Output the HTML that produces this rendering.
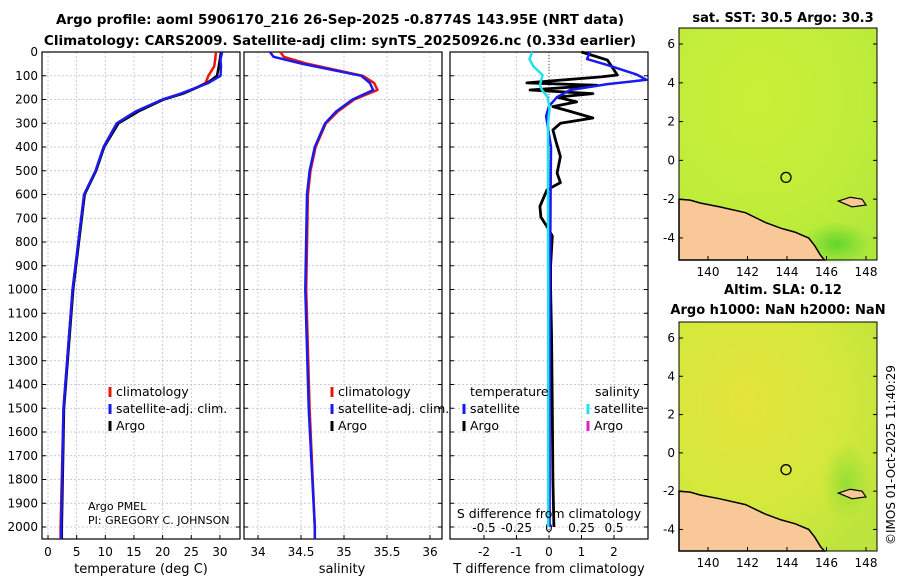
<!DOCTYPE html>
<html><head><meta charset="utf-8"><style>
body{margin:0;background:#fff;}
svg text{font-family:"DejaVu Sans","Liberation Sans",sans-serif;}
</style></head><body>
<svg id="c" width="900" height="580" viewBox="0 0 900 580" xmlns="http://www.w3.org/2000/svg">
<defs>
<radialGradient id="sst" cx="0.4" cy="0.3" r="0.9"><stop offset="0" stop-color="#cbef38"/><stop offset="0.6" stop-color="#bfec3a"/><stop offset="1" stop-color="#aee63c"/></radialGradient>
<radialGradient id="greenblob" cx="0.5" cy="0.5" r="0.5"><stop offset="0" stop-color="#55d42c" stop-opacity="0.9"/><stop offset="1" stop-color="#6ad630" stop-opacity="0"/></radialGradient>
<radialGradient id="sla" cx="0.35" cy="0.35" r="0.8"><stop offset="0" stop-color="#e4e43c"/><stop offset="0.6" stop-color="#d4e83c"/><stop offset="1" stop-color="#bce43c"/></radialGradient>
</defs>
<text x="340" y="24" text-anchor="middle" font-size="13.5" font-weight="bold">Argo profile: aoml 5906170_216 26-Sep-2025 -0.8774S 143.95E (NRT data)</text>
<text x="340" y="45" text-anchor="middle" font-size="13.5" font-weight="bold">Climatology: CARS2009. Satellite-adj clim: synTS_20250926.nc (0.33d earlier)</text>
<g id="g"></g>
<text x="783" y="22" text-anchor="middle" font-size="13" font-weight="bold">sat. SST: 30.5 Argo: 30.3</text>
<text x="783" y="294" text-anchor="middle" font-size="13" font-weight="bold">Altim. SLA: 0.12</text>
<text x="778" y="314" text-anchor="middle" font-size="13" font-weight="bold">Argo h1000: NaN h2000: NaN</text>
<text transform="translate(895,545) rotate(-90)" font-size="12">©IMOS 01-Oct-2025 11:40:29</text>
</svg>
<script>
const depthTicks=[0,100,200,300,400,500,600,700,800,900,1000,1100,1200,1300,1400,1500,1600,1700,1800,1900,2000];
const tDepth=[0,30,60,100,130,150,175,200,250,300,400,500,600,700,1000,1500,2000,2050];
const tClim=[29.3,29.2,29.0,28.0,27.5,25.9,23.5,20,15.5,12.0,9.7,8.3,6.3,5.8,4.3,2.7,2.2,2.2];
const tSat=[30.4,30.1,30.2,30.1,28.0,25.9,23.2,20,15.3,12.0,9.7,8.3,6.3,5.8,4.3,2.7,2.3,2.3];
const tArgo=[30.2,30.0,29.8,29.5,27.8,26.0,23.6,20.2,15.8,12.3,9.8,8.4,6.4,5.9,4.4,2.8,2.4,2.4];
const sDepth=[0,20,50,100,130,160,200,250,300,400,500,600,1000,1500,2000,2050];
const sClim=[34.26,34.3,34.58,35.22,35.35,35.39,35.12,34.93,34.79,34.67,34.61,34.58,34.56,34.6,34.66,34.66];
const sSat=[34.14,34.18,34.52,35.2,35.3,35.34,35.1,34.91,34.78,34.66,34.6,34.57,34.55,34.59,34.66,34.66];
const dDepthArgo=[0,34,76,97,105,130,140,160,175,190,210,230,250,278,300,328,370,440,510,550,580,650,695,735,775,900,1000,1200,1500,1800,2000];
const dTArgo=[1.0,1.8,2.0,2.1,1.6,-0.68,1.48,-0.58,1.35,0.25,0.85,0.12,0.65,1.35,0.35,0.12,0.2,0.35,0.25,0.35,-0.06,-0.28,-0.25,-0.06,0.1,0.05,0.05,0.08,0.1,0.12,0.15];
const dDepthSat=[0,30,55,95,117,135,160,190,228,270,400,600,1000,1500,2000];
const dTSat=[1.26,1.17,1.8,2.7,3.0,1.8,0.65,0.25,0,-0.09,0.06,0.05,0.03,0.02,0.02];
const dSDepth=[0,30,60,97,140,160,190,240,300,600,1000,1500,2000];
const dSSat=[-0.13,-0.15,-0.12,-0.05,-0.07,-0.055,-0.01,0.005,-0.008,-0.008,-0.006,-0.006,-0.006];
const tTicks=[0,5,10,15,20,25,30];
const sTicks=[34,34.5,35,35.5,36];
const dTTicks=[-2,-1,0,1,2];
const dSTicks=[-0.5,-0.25,0,0.25,0.5];
const dSTickLabels=["-0.5","-0.25","0","0.25","0.5"];
const lonTicks=[140,142,144,146,148];
const latTicks=[-4,-2,0,2,4,6];
const argoLon=143.95, argoLat=-0.8774;
const coast=[[138.5,-2.0],[139.1,-2.05],[139.6,-2.2],[140.6,-2.4],[141.9,-2.7],[142.9,-3.2],[143.7,-3.5],[144.4,-3.7],[145.1,-4.0],[145.4,-4.4],[145.7,-4.9],[145.9,-5.4]];

const NS="http://www.w3.org/2000/svg";
const G=document.getElementById('g');
function el(t,a,p){const e=document.createElementNS(NS,t);for(const k in a)e.setAttribute(k,a[k]);(p||G).appendChild(e);return e;}
const yTop=52,yScale=475/2000,yBot=539;
const Y=d=>yTop+d*yScale;
const panels=[{x0:42,x1:240,f:v=>48+v*5.73},{x0:244,x1:442,f:v=>258+(v-34)*86},{x0:450,x1:648,f:v=>549+v*32.5}];
const fS3=v=>549+v*130;
function line(xs,ds,fx,color,w,name){
  const p=xs.map((v,i)=>(i?'L':'M')+fx(v).toFixed(1)+','+Y(ds[i]).toFixed(1)).join('');
  const e=el('path',{d:p,fill:'none',stroke:color,'stroke-width':w,'stroke-linejoin':'round'});
  
  
}
function grid(pn,ticks,fx,name){
  ticks.forEach(t=>{const x=fx(t);el('line',{x1:x,x2:x,y1:yTop,y2:yBot,stroke:'#b8b8d8','stroke-width':0.7,'stroke-dasharray':'2,2'});el('line',{x1:x,x2:x,y1:yBot,y2:yBot-4,stroke:'#000'});});
  depthTicks.forEach(d=>{el('line',{x1:pn.x0,x2:pn.x1,y1:Y(d),y2:Y(d),stroke:'#b8b8d8','stroke-width':0.7,'stroke-dasharray':'2,2'});});
  const r=el('rect',{x:pn.x0,y:yTop,width:pn.x1-pn.x0,height:yBot-yTop,fill:'none',stroke:'#000','stroke-width':1.2});
  
  
  depthTicks.forEach(d=>{el('line',{x1:pn.x0,x2:pn.x0+4,y1:Y(d),y2:Y(d),stroke:'#000'});el('line',{x1:pn.x1,x2:pn.x1-4,y1:Y(d),y2:Y(d),stroke:'#000'});});
}
function txt(x,y,s,name,size,anchor){const t=el('text',{x:x,y:y,'text-anchor':anchor||'middle','font-size':size||12});t.textContent=s;return t;}
// panel 1
grid(panels[0],tTicks,panels[0].f,'temperature-panel');
depthTicks.forEach(d=>txt(38,Y(d)+4,d,'depth-tick-label',12,'end'));
tTicks.forEach(v=>txt(panels[0].f(v),556,v,'temperature-tick-label'));
line(tClim,tDepth,panels[0].f,'#e8160c',2.5,'temperature-climatology-line');
line(tArgo,tDepth,panels[0].f,'#000',2.5,'temperature-argo-line');
line(tSat,tDepth,panels[0].f,'#1a1aee',2.5,'temperature-satellite-line');
// panel 2
grid(panels[1],sTicks,panels[1].f,'salinity-panel');
sTicks.forEach(v=>txt(panels[1].f(v),556,v,'salinity-tick-label'));
line(sClim,sDepth,panels[1].f,'#e8160c',2.5,'salinity-climatology-line');
line(sSat,sDepth,panels[1].f,'#1a1aee',2.5,'salinity-satellite-line');
// panel 3
grid(panels[2],dTTicks,panels[2].f,'difference-panel');
el('line',{x1:549,x2:549,y1:yTop,y2:yBot,stroke:'#444','stroke-width':1,'stroke-dasharray':'1,2'});
dTTicks.forEach(v=>txt(panels[2].f(v),556,v,'t-diff-tick-label'));
dSTicks.forEach((v,i)=>txt(fS3(v),532,dSTickLabels[i],'s-diff-tick-label'));
line(dTArgo,dDepthArgo,panels[2].f,'#000',2.8,'t-diff-argo-line');
line(dTSat,dDepthSat,panels[2].f,'#1a1aee',2.5,'t-diff-satellite-line');
line(dSSat,dSDepth,fS3,'#22e0ee',2.5,'s-diff-satellite-line');
txt(141,573,'temperature (deg C)','x-axis-title-temperature',13);
txt(342,573,'salinity','x-axis-title-salinity',13);
txt(549,573,'T difference from climatology','x-axis-title-t-diff',13);
txt(549,518,'S difference from climatology','s-diff-axis-title',12.5);
// legends
function leg(x,y,color,label,name){el('line',{x1:x,x2:x,y1:y-9,y2:y+1,stroke:color,'stroke-width':3});txt(x+6,y,label,name,12.5,'start');}
leg(110,396,'#e8160c','climatology','legend-climatology');
leg(110,413,'#1a1aee','satellite-adj. clim.','legend-satellite');
leg(110,430,'#000','Argo','legend-argo');
leg(332,396,'#e8160c','climatology','legend2-climatology');
leg(332,413,'#1a1aee','satellite-adj. clim.','legend2-satellite');
leg(332,430,'#000','Argo','legend2-argo');
txt(470,396,'temperature','legend3-header-temperature',12.5,'start');
txt(595,396,'salinity','legend3-header-salinity',12.5,'start');
leg(464,413,'#1a1aee','satellite','legend3-t-satellite');
leg(464,430,'#000','Argo','legend3-t-argo');
leg(588,413,'#22e0ee','satellite','legend3-s-satellite');
leg(588,430,'#e020c0','Argo','legend3-s-argo');
txt(88,510,'Argo PMEL','argo-institution',11,'start');
txt(88,524,'PI: GREGORY C. JOHNSON','argo-pi',11,'start');
// maps
function map(y0,y1,fill,name,blob){
  const x0=679,x1=877;
  const lx=v=>708+(v-140)*19.75;
  const ly=v=>y0+16+(6-v)*((y1-y0)*0.836/10);
  const r=el('rect',{x:x0,y:y0,width:x1-x0,height:y1-y0,fill:fill});
  
  
  if(blob){el('ellipse',{cx:lx(146.5),cy:ly(-4.3),rx:35,ry:22,fill:'url(#greenblob)'});}
  else{el('ellipse',{cx:lx(147),cy:ly(-1.5),rx:25,ry:40,fill:'url(#greenblob)',opacity:0.5});}
  const lp=coast.map((p,i)=>(i?'L':'M')+Math.max(x0,lx(p[0])).toFixed(1)+','+Math.min(y1,ly(p[1])).toFixed(1)).join('')+'L'+x0+','+y1+'Z';
  const L=el('path',{d:lp,fill:'#f8c898',stroke:'#000','stroke-width':1.5});
  
  el('path',{d:`M${lx(146.6)},${ly(-2.1)} L${lx(147.2)},${ly(-1.9)} L${lx(147.8)},${ly(-2.0)} L${lx(148.0)},${ly(-2.3)} L${lx(147.3)},${ly(-2.4)} Z`,fill:'#f8c898',stroke:'#000','stroke-width':1.2});
  const m=el('circle',{cx:lx(argoLon),cy:ly(argoLat),r:5,fill:'none',stroke:'#000','stroke-width':1.3});
  
  el('rect',{x:x0,y:y0,width:x1-x0,height:y1-y0,fill:'none',stroke:'#000'});
  lonTicks.forEach(v=>{el('line',{x1:lx(v),x2:lx(v),y1:y1,y2:y1-4,stroke:'#000'});txt(lx(v),y1+16,v,'lon-tick-label');});
  latTicks.forEach(v=>{el('line',{x1:x0,x2:x0+4,y1:ly(v),y2:ly(v),stroke:'#000'});el('line',{x1:x1,x2:x1-4,y1:ly(v),y2:ly(v),stroke:'#000'});txt(x0-4,ly(v)+4,v,'lat-tick-label',12,'end');});
}
map(28,260,'url(#sst)','sst-map',true);
map(322,551,'url(#sla)','sla-map',false);
</script>
</body></html>
